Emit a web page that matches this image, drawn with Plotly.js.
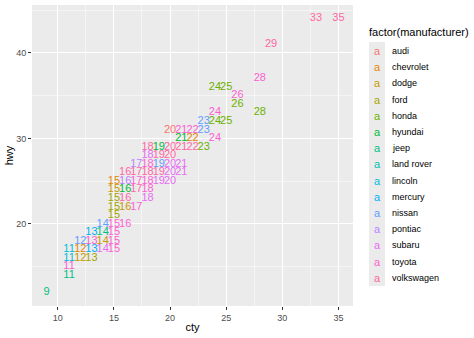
<!DOCTYPE html>
<html>
<head>
<meta charset="utf-8">
<script src="https://cdn.plot.ly/plotly-3.0.1.min.js"></script>
<style>html,body{margin:0;padding:0;background:#fff;}#chart{width:474px;height:338px;}</style>
</head>
<body>
<div id="chart"></div>
<script>
// Manufacturers (legend order) and their ggplot hue colours
const manufacturers = ["audi","chevrolet","dodge","ford","honda","hyundai","jeep","land rover","lincoln","mercury","nissan","pontiac","subaru","toyota","volkswagen"];
const makerColors = ["#F8766D","#E58700","#C99800","#A3A500","#6BB100","#00BA38","#00BF7D","#00C0AF","#00BCD8","#00B0F6","#619CFF","#B983FF","#E76BF3","#FD61D1","#FF67A4"];

// Visible labels: city mpg, highway mpg, manufacturer on top
const ctyVals = [33,35,29,28,24,25,26,26,28,24,23,24,25,
  20,21,22,23, 21,22,24, 18,19,20,21,22,23, 18,19,20,
  17,18,19,20,21, 16,17,18,19,20,21, 15,16,17,18,19,20,
  15,16,17,18, 15,16,18, 15,16,17, 15, 14,15,16, 13,14,15,
  12,13,14,15, 11,12,13,14,15, 11,12,13, 11, 11, 9];
const hwyVals = [44,44,41,37,36,36,35,34,33,33,32,32,32,
  31,31,31,31, 30,30,30, 29,29,29,29,29,29, 28,28,28,
  27,27,27,27,27, 26,26,26,26,26,26, 25,25,25,25,25,25,
  24,24,24,24, 23,23,23, 22,22,22, 21, 20,20,20, 19,19,19,
  18,18,18,18, 17,17,17,17,17, 16,16,16, 15, 14, 12];
const makerVals = ["volkswagen","volkswagen","volkswagen","toyota","honda","honda","toyota","honda","honda","toyota","nissan","honda","honda",
  "audi","toyota","toyota","nissan", "hyundai","chevrolet","toyota",
  "volkswagen","hyundai","volkswagen","volkswagen","volkswagen","honda",
  "subaru","volkswagen","volkswagen",
  "pontiac","toyota","nissan","subaru","subaru",
  "volkswagen","volkswagen","volkswagen","volkswagen","subaru","subaru",
  "chevrolet","pontiac","toyota","toyota","subaru","subaru",
  "dodge","hyundai","volkswagen","toyota",
  "ford","volkswagen","subaru",
  "ford","dodge","toyota",
  "ford",
  "nissan","toyota","toyota",
  "mercury","jeep","toyota",
  "nissan","toyota","dodge","toyota",
  "lincoln","chevrolet","mercury","subaru","toyota",
  "lincoln","dodge","ford",
  "toyota","jeep","jeep"];

const FONT = "Liberation Sans, Arial, sans-serif";

const traces = manufacturers.map((m, i) => {
  const xs = [], ys = [], ts = [];
  makerVals.forEach((mk, j) => {
    if (mk === m) { xs.push(ctyVals[j]); ys.push(hwyVals[j]); ts.push(String(ctyVals[j])); }
  });
  return {
    type: "scatter", mode: "text", name: m,
    x: xs, y: ys, text: ts,
    textposition: "middle center",
    textfont: {family: FONT, size: 11, color: makerColors[i]},
    showlegend: false, hoverinfo: "skip", cliponaxis: false
  };
});

// plot area in pixels
const L = 32, R = 353, T = 5, B = 306, W = 474, H = 338;
const px = p => (p - L) / (R - L);
const py = p => (B - p) / (B - T);

const annotations = [];
const shapes = [];
annotations.push({xref:"paper", yref:"paper", x: px(367), y: py(32), xanchor:"left", yanchor:"middle",
  text:"factor(manufacturer)", showarrow:false, font:{family:FONT, size:11, color:"#000"}});
shapes.push({type:"rect", xref:"paper", yref:"paper", x0: px(369), x1: px(385), y0: py(42), y1: py(286),
  fillcolor:"#EBEBEB", line:{width:0}, layer:"below"});
manufacturers.forEach((m, i) => {
  const yc = 51 + i * 16.2;
  annotations.push({xref:"paper", yref:"paper", x: px(377), y: py(yc), xanchor:"center", yanchor:"middle",
    text:"a", showarrow:false, font:{family:FONT, size:11, color: makerColors[i]}});
  annotations.push({xref:"paper", yref:"paper", x: px(390), y: py(yc), xanchor:"left", yanchor:"middle",
    text:m, showarrow:false, font:{family:FONT, size:9, color:"#000"}});
});

const layout = {
  width: W, height: H,
  margin: {l: L, r: W - R, t: T, b: H - B, pad: 0},
  paper_bgcolor: "#FFFFFF",
  plot_bgcolor: "#EBEBEB",
  showlegend: false,
  font: {family: FONT},
  xaxis: {
    range: [7.7, 36.3], tick0: 0, dtick: 5, showgrid: true, gridcolor: "#FFFFFF", gridwidth: 1.1,
    minor: {dtick: 2.5, showgrid: true, gridcolor: "#FFFFFF", gridwidth: 0.5},
    zeroline: false, showline: false,
    ticks: "outside", ticklen: 3, tickwidth: 1, tickcolor: "#333333",
    tickfont: {family: FONT, size: 9, color: "#4D4D4D"},
    title: {text: "cty", font: {family: FONT, size: 11, color: "#000"}, standoff: 1}
  },
  yaxis: {
    range: [10.4, 45.6], tick0: 0, dtick: 10, showgrid: true, gridcolor: "#FFFFFF", gridwidth: 1.1,
    minor: {dtick: 5, showgrid: true, gridcolor: "#FFFFFF", gridwidth: 0.5},
    zeroline: false, showline: false,
    ticks: "outside", ticklen: 3, tickwidth: 1, tickcolor: "#333333",
    tickfont: {family: FONT, size: 9, color: "#4D4D4D"},
    title: {text: "hwy", font: {family: FONT, size: 11, color: "#000"}, standoff: 0}
  },
  annotations: annotations,
  shapes: shapes
};

Plotly.newPlot("chart", traces, layout, {displayModeBar: false, staticPlot: true});
</script>
</body>
</html>
